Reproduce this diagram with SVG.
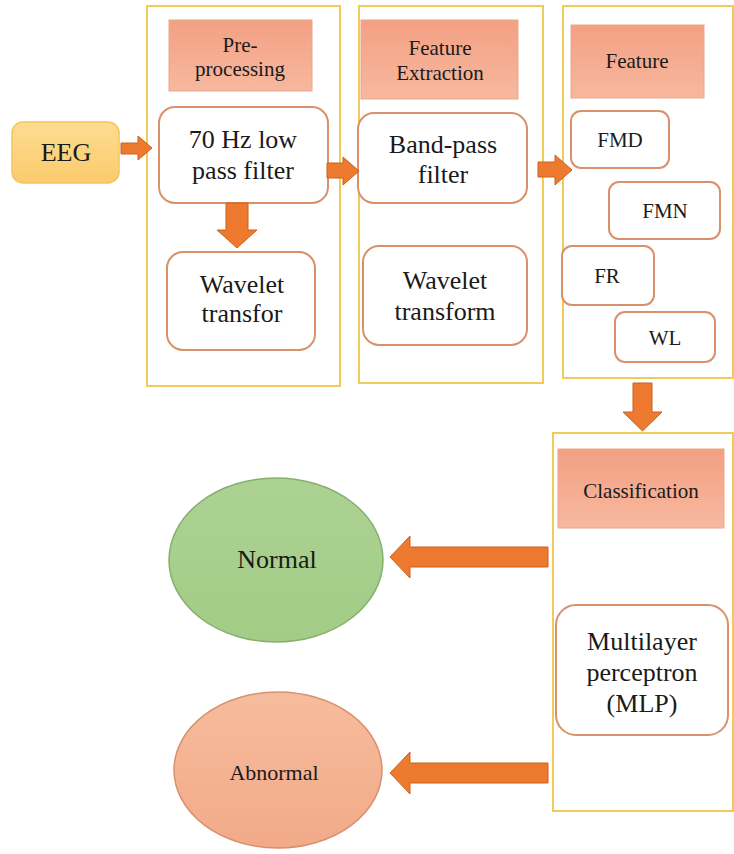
<svg xmlns="http://www.w3.org/2000/svg" width="734" height="854" viewBox="0 0 734 854">
<defs>
<linearGradient id="hdr" x1="0" y1="0" x2="0" y2="1"><stop offset="0" stop-color="#F3A083"/><stop offset="1" stop-color="#F7B89F"/></linearGradient>
<linearGradient id="eeg" x1="0" y1="0" x2="0" y2="1"><stop offset="0" stop-color="#FDDC90"/><stop offset="1" stop-color="#FBCB6C"/></linearGradient>
<linearGradient id="grn" x1="0" y1="0" x2="0" y2="1"><stop offset="0" stop-color="#ACD293"/><stop offset="1" stop-color="#A3CC86"/></linearGradient>
<linearGradient id="red" x1="0" y1="0" x2="0" y2="1"><stop offset="0" stop-color="#F6BC9E"/><stop offset="1" stop-color="#F2AA88"/></linearGradient>
<style>
.cont{fill:none;stroke:#F1CB5A;stroke-width:2}
.hdr{fill:url(#hdr);stroke:#E9A78A;stroke-width:1}
.box{fill:#FFFFFF;stroke:#D9916A;stroke-width:2}
.arr{fill:#ED7A2F;stroke:#C9631E;stroke-width:1}
text{font-family:"Liberation Serif","Times New Roman",serif;fill:#1A1A1A;text-anchor:middle}
.big{font-size:26px}
.sm{font-size:21px}
</style>
</defs>
<rect width="734" height="854" fill="#FFFFFF"/>
<g id="containers">
<rect class="cont" x="147" y="6" width="193" height="380"/>
<rect class="cont" x="359" y="6" width="184" height="377"/>
<rect class="cont" x="563" y="6" width="170" height="372"/>
<rect class="cont" x="553" y="433" width="180" height="378"/>
</g>
<g id="eeg"><rect x="12" y="122" width="107" height="61" rx="11" fill="url(#eeg)" stroke="#F4C463" stroke-width="1.5"/><text class="big" x="66" y="161">EEG</text></g>
<g id="preprocessing"><rect class="hdr" x="169" y="20" width="143" height="71"/><text class="sm" x="240" y="52">Pre-</text><text class="sm" x="240" y="76">processing</text></g>
<g id="lowpass"><rect class="box" x="159" y="107" width="169" height="96" rx="16"/><text class="big" x="243" y="148">70 Hz low</text><text class="big" x="243" y="179">pass filter</text></g>
<g id="wavelet1"><rect class="box" x="167" y="252" width="148" height="98" rx="16"/><text class="big" x="242" y="293">Wavelet</text><text class="big" x="242" y="322">transfor</text></g>
<g id="featureextraction"><rect class="hdr" x="361" y="20" width="157" height="79"/><text class="sm" x="440" y="55">Feature</text><text class="sm" x="440" y="80">Extraction</text></g>
<g id="bandpass"><rect class="box" x="358" y="113" width="169" height="90" rx="16"/><text class="big" x="443" y="153">Band-pass</text><text class="big" x="443" y="183">filter</text></g>
<g id="wavelet2"><rect class="box" x="363" y="246" width="164" height="99" rx="16"/><text class="big" x="445" y="289">Wavelet</text><text class="big" x="445" y="320">transform</text></g>
<g id="feature"><rect class="hdr" x="571" y="25" width="133" height="73"/><text class="sm" x="637" y="68">Feature</text></g>
<g id="fmd"><rect class="box" x="571" y="111" width="98" height="57" rx="10"/><text class="sm" x="620" y="147">FMD</text></g>
<g id="fmn"><rect class="box" x="609" y="182" width="111" height="57" rx="10"/><text class="sm" x="665" y="218">FMN</text></g>
<g id="fr"><rect class="box" x="562" y="246" width="92" height="59" rx="10"/><text class="sm" x="607" y="283">FR</text></g>
<g id="wl"><rect class="box" x="615" y="312" width="100" height="50" rx="10"/><text class="sm" x="665" y="345">WL</text></g>
<g id="classification"><rect class="hdr" x="558" y="449" width="166" height="79"/><text class="sm" x="641" y="498">Classification</text></g>
<g id="mlp"><rect class="box" x="556" y="605" width="172" height="130" rx="20"/><text class="big" x="642" y="650">Multilayer</text><text class="big" x="642" y="681">perceptron</text><text class="big" x="642" y="712">(MLP)</text></g>
<g id="normal"><ellipse cx="276" cy="560" rx="107" ry="82" fill="url(#grn)" stroke="#86B06E" stroke-width="1.5"/><text x="277" y="568" style="font-size:26px">Normal</text></g>
<g id="abnormal"><ellipse cx="278" cy="770" rx="104" ry="78" fill="url(#red)" stroke="#D8916E" stroke-width="1.5"/><text x="274" y="780" style="font-size:22px">Abnormal</text></g>
<g id="connectors">
<polygon class="arr" points="121,143 138,143 138,136 152,148 138,160 138,154 121,154"/>
<polygon class="arr" points="226,203 248,203 248,230 257,230 237,248 217,230 226,230"/>
<polygon class="arr" points="327,163 343,163 343,157 359,171 343,185 343,178 327,178"/>
<polygon class="arr" points="538,162 555,162 555,155 572,170 555,185 555,177 538,177"/>
<polygon class="arr" points="633,383 652,383 652,412 662,412 642.5,431 623,412 633,412"/>
<polygon class="arr" points="548,547 410,547 410,536 390,557 410,578 410,567 548,567"/>
<polygon class="arr" points="548,763 410,763 410,752 390,773 410,794 410,783 548,783"/>
</g>
</svg>
